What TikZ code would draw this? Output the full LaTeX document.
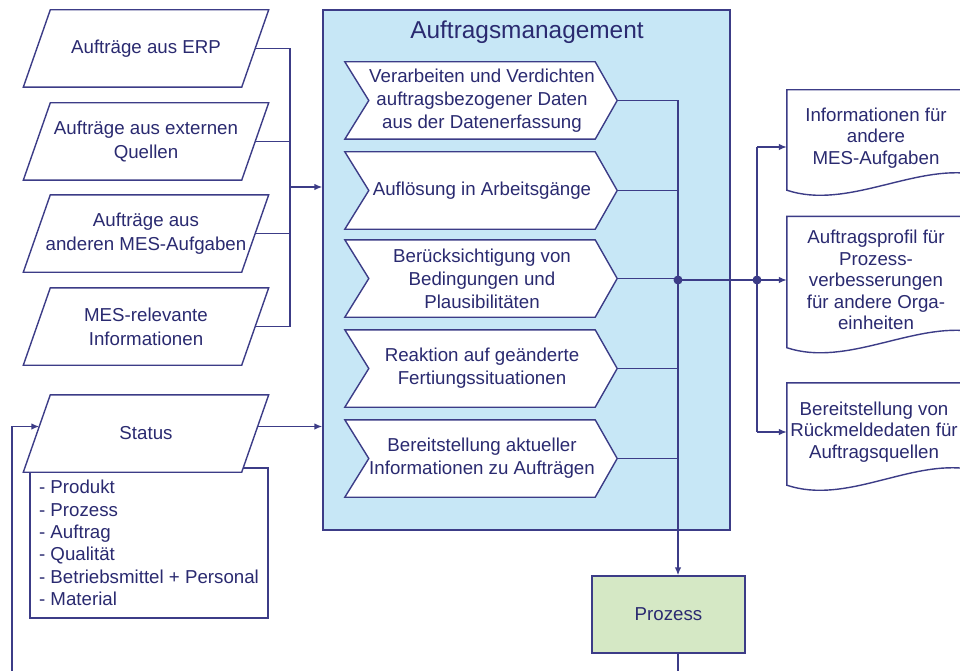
\documentclass[tikz,border=0pt]{standalone}
\usepackage{fontspec}
\setmainfont{Liberation Sans}
\usetikzlibrary{arrows.meta,calc}
\pgfdeclarelayer{outline}
\pgfsetlayers{outline,main}

\definecolor{ink}{RGB}{42,42,112}
\definecolor{wire}{RGB}{60,60,135}
\definecolor{panel}{RGB}{199,231,246}
\definecolor{procfill}{RGB}{213,232,197}

\tikzset{
  txt/.style={inner sep=0pt, text=ink, align=center, font=\fontsize{18.7}{24}\selectfont},
  parabox/.style={txt, minimum width=218pt, minimum height=77pt},
  chevbox/.style={txt, minimum width=226pt, minimum height=77pt, font=\fontsize{18.7}{23}\selectfont},
  docbox/.style={txt, minimum width=180pt, font=\fontsize{18.7}{21.5}\selectfont},
  outline/.style={draw=wire, line width=1.4pt, fill=white, line join=miter},
  conn/.style={draw=wire, line width=1.4pt},
  arr/.style={conn, -{Latex[length=8pt,width=6.5pt]}},
  dot/.style={circle, fill=wire, inner sep=0pt, minimum size=9pt},
}

\begin{document}
\begin{tikzpicture}[x=1pt, y=-1pt]
\useasboundingbox (0,0) rectangle (960,671);

% input parallelograms (text bodies)
\node[parabox] (p1) at (146,48.5)  {Aufträge aus ERP};
\node[parabox] (p2) at (146,141.5) {Aufträge aus externen\\Quellen};
\node[parabox] (p3) at (146,233.5) {Aufträge aus\\anderen MES-Aufgaben};
\node[parabox] (p4) at (146,326.5) {MES-relevante\\Informationen};
\node[parabox] (st) at (146,433.5) {Status};

% process steps (chevrons)
\node[chevbox] (c1) at (482,100.5) {Verarbeiten und Verdichten\\auftragsbezogener Daten\\aus der Datenerfassung};
\node[chevbox] (c2) at (482,190.5) {Auflösung in Arbeitsgänge};
\node[chevbox] (c3) at (482,278.5) {Berücksichtigung von\\Bedingungen und\\Plausibilitäten};
\node[chevbox] (c4) at (482,368.5) {Reaktion auf geänderte\\Fertiungssituationen};
\node[chevbox] (c5) at (482,458.5) {Bereitstellung aktueller\\Informationen zu Aufträgen};

% output documents
\node[docbox, minimum height=96pt]  (d1) at (876,138) {Informationen für\\andere\\MES-Aufgaben};
\node[docbox, minimum height=127pt] (d2) at (876,280) {Auftragsprofil für\\Prozess-\\verbesserungen\\für andere Orga-\\einheiten};
\node[docbox, minimum height=98pt, minimum width=176pt] (d3) at (874,432) {Bereitstellung von\\Rückmeldedaten für\\Auftragsquellen};

\begin{pgfonlayer}{outline}
  \fill[white] (0,0) rectangle (960,671);
  % management panel
  \node[draw=wire, fill=panel, line width=1.4pt, minimum width=407pt,
        minimum height=520pt, inner sep=0pt] (am) at (526.5,270) {};
  % status detail list
  \node[draw=wire, fill=white, line width=1.4pt, minimum width=238pt,
        minimum height=150pt, inner sep=0pt, text=ink, align=left,
        font=\fontsize{18.7}{22.4}\selectfont] (sl) at (149,543)
        {- Produkt\\- Prozess\\- Auftrag\\- Qualität\\- Betriebsmittel + Personal\\- Material};
  % parallelogram outlines
  \foreach \n in {p1,p2,p3,p4,st}
    \path[outline] ($(\n.north west)+(13.5,0)$) -- ($(\n.north east)+(13.5,0)$)
      -- ($(\n.south east)+(-13.5,0)$) -- ($(\n.south west)+(-13.5,0)$) -- cycle;
  % chevron outlines
  \foreach \n in {c1,c2,c3,c4,c5}
    \path[outline] ($(\n.north west)+(-24,0)$) -- (\n.north east)
      -- ($(\n.east)+(22,0)$) -- (\n.south east)
      -- ($(\n.south west)+(-24,0)$) -- (\n.west) -- cycle;
  % document outlines with wavy bottom
  \foreach \n in {d1,d2,d3}
    \path[outline] ($(\n.north west)+(1,0)$) -- ($(\n.north east)+(8,0)$)
      -- ($(\n.south east)+(8,-12)$)
      .. controls ($(\n.south east)+(-52,-22)$) and ($(\n.south west)+(61,24)$)
      .. ($(\n.south west)+(1,4)$) -- cycle;
\end{pgfonlayer}

\node[txt, font=\fontsize{24.4}{28}\selectfont] (amt) at (527,32) {Auftragsmanagement};
\node[txt, draw=wire, fill=procfill, line width=1.4pt, minimum width=153pt,
      minimum height=77pt] (pr) at (668.5,614.5) {Prozess};

% junction points
\coordinate (jin)  at (290,187);
\coordinate (col)  at (678,280);
\coordinate (jout) at (757,280);
\coordinate (fb)   at (12,676);
\coordinate (stout) at ([xshift=2.5pt,yshift=7pt]st.east);
\coordinate (stin)  at ([xshift=2.5pt,yshift=7pt]st.west);
\coordinate (d1in)  at ([xshift=1pt,yshift=-9pt]d1.west);
\coordinate (d2in)  at ([xshift=1pt]d2.west);
\coordinate (d3in)  at ([xshift=1pt]d3.west);

% inputs into the management panel
\foreach \n in {p1,p2,p3,p4}
  \draw[conn] (\n.east) -- (\n.east -| jin);
\draw[conn] (p1.east -| jin) -- (p4.east -| jin);
\draw[arr] (jin) -- (jin -| am.west);
\draw[arr] (stout) -- (stout -| am.west);

% step outputs gathered on the collector line
\foreach \n in {c1,c2,c3,c4,c5}
  \draw[conn] ([xshift=22pt]\n.east) -- (\n.east -| col);
\draw[arr] (c1.east -| col) -- (col |- pr.north);
\draw[conn] (col) -- (jout);
\node[dot] (dl) at (col) {};
\node[dot] (dr) at (jout) {};

% distribution to the documents
\draw[conn] (jout |- d1in) -- (jout |- d3in);
\draw[arr] (jout |- d1in) -- (d1in);
\draw[arr] (jout) -- (d2in);
\draw[arr] (jout |- d3in) -- (d3in);

% feedback from the process to the status
\draw[arr] (col |- pr.south) -- (col |- fb) -- (fb) -- (fb |- stin) -- (stin);
\end{tikzpicture}
\end{document}
